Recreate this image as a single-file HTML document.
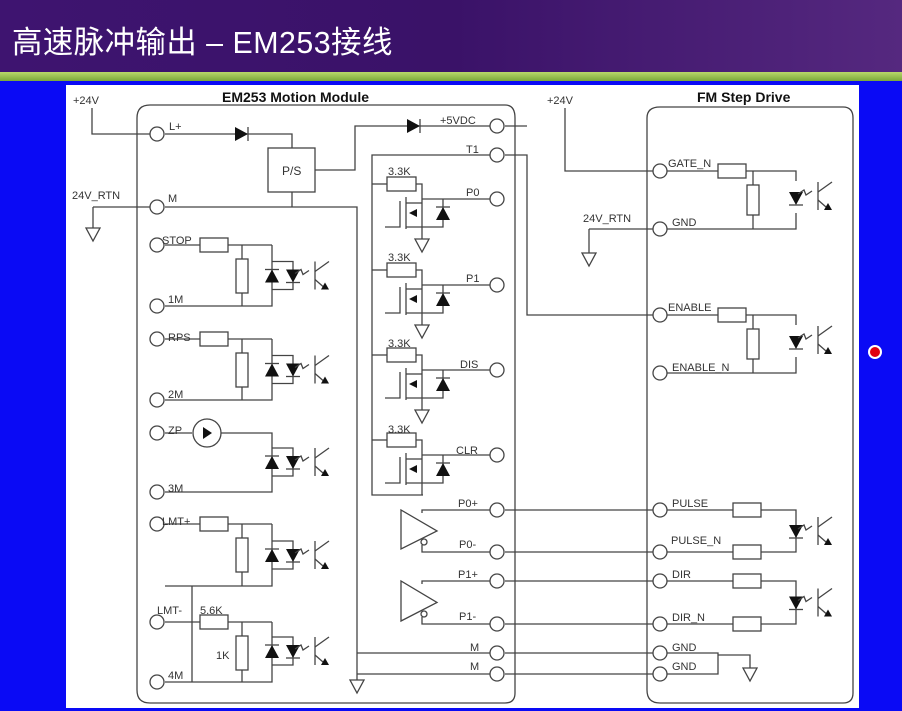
<!DOCTYPE html>
<html><head><meta charset="utf-8"><style>
html,body{margin:0;padding:0}
body{width:902px;height:711px;overflow:hidden;background:#0a0af5;position:relative;font-family:"Liberation Sans",Arial,sans-serif}
#title{position:absolute;left:0;top:0;width:902px;height:72px;background:linear-gradient(90deg,#3e1470,#3a1268 50%,#55287f);}
#title span{position:absolute;left:12px;top:17px;color:#fff;font:31px "Liberation Sans","Noto Sans CJK SC",sans-serif;letter-spacing:0.5px;transform:scaleX(0.98);transform-origin:0 0;white-space:nowrap}
#g1{position:absolute;left:0;top:72px;width:902px;height:9px;background:linear-gradient(#b8d86a,#7aa83a)}
#panel{position:absolute;left:66px;top:85px;width:793px;height:623px;background:#fff}
svg{position:absolute;left:0;top:0}
#dot{position:absolute;left:868px;top:345px;width:14px;height:14px;border-radius:50%;background:#e00010;border:2px solid #fff;box-sizing:border-box}
</style></head><body>
<div id="title"><span>高速脉冲输出 – EM253接线</span></div>
<div id="g1"></div>
<div id="panel"></div>
<div id="dot"></div>
<svg id="s" width="902" height="711" viewBox="0 0 902 711" font-family="Liberation Sans,Arial,sans-serif" font-size="11" fill="#222">
<g id="shapes" stroke="#444" stroke-width="1.3" fill="none"></g>
<g font-weight="bold" font-size="14" fill="#111">
<text x="222" y="102">EM253 Motion Module</text>
<text x="697" y="102">FM Step Drive</text>
</g>
<g fill="#333">
<text x="73" y="104">+24V</text><text x="547" y="104">+24V</text>
<text x="72" y="199">24V_RTN</text><text x="583" y="222">24V_RTN</text>
<text x="169" y="130">L+</text><text x="168" y="202">M</text>
<text x="162" y="244">STOP</text><text x="168" y="303">1M</text>
<text x="168" y="341">RPS</text><text x="168" y="398">2M</text>
<text x="168" y="434">ZP</text><text x="168" y="492">3M</text>
<text x="162" y="525">LMT+</text><text x="157" y="614">LMT-</text>
<text x="200" y="614">5.6K</text><text x="216" y="659">1K</text>
<text x="168" y="679">4M</text>
<text x="282" y="175" font-size="12">P/S</text>
<text x="440" y="124">+5VDC</text><text x="466" y="153">T1</text>
<text x="388" y="175">3.3K</text><text x="466" y="196">P0</text>
<text x="388" y="261">3.3K</text><text x="466" y="282">P1</text>
<text x="388" y="347">3.3K</text><text x="460" y="368">DIS</text>
<text x="388" y="433">3.3K</text><text x="456" y="454">CLR</text>
<text x="458" y="507">P0+</text><text x="459" y="548">P0-</text>
<text x="458" y="578">P1+</text><text x="459" y="620">P1-</text>
<text x="470" y="651">M</text><text x="470" y="670">M</text>
<text x="668" y="167">GATE_N</text><text x="672" y="226">GND</text>
<text x="668" y="311">ENABLE</text><text x="672" y="371">ENABLE_N</text>
<text x="672" y="507">PULSE</text><text x="671" y="544">PULSE_N</text>
<text x="672" y="578">DIR</text><text x="672" y="621">DIR_N</text>
<text x="672" y="651">GND</text><text x="672" y="670">GND</text>
</g>
</svg>
<script>
var S=document.getElementById('shapes'),h='';
function L(p){h+='<polyline points="'+p+'"/>';}
function C(x,y){h+='<circle cx="'+x+'" cy="'+y+'" r="7" fill="#fff"/>';}
function R(x,y,w,hh){h+='<rect x="'+x+'" y="'+y+'" width="'+w+'" height="'+hh+'" fill="#fff"/>';}
function G(x,y){h+='<polygon points="'+(x-7)+','+y+' '+(x+7)+','+y+' '+x+','+(y+13)+'" fill="#fff"/>';}
function Dup(x,y){h+='<polygon points="'+(x-7)+','+(y+7)+' '+(x+7)+','+(y+7)+' '+x+','+(y-6)+'" fill="#111" stroke="none"/><line x1="'+(x-7)+'" y1="'+(y-6)+'" x2="'+(x+7)+'" y2="'+(y-6)+'"/>';}
function Ddn(x,y){h+='<polygon points="'+(x-7)+','+(y-6)+' '+(x+7)+','+(y-6)+' '+x+','+(y+7)+'" fill="#111" stroke="none"/><line x1="'+(x-7)+'" y1="'+(y+7)+'" x2="'+(x+7)+'" y2="'+(y+7)+'"/>';}
function Drt(x,y){h+='<polygon points="'+(x-6)+','+(y-7)+' '+(x-6)+','+(y+7)+' '+(x+7)+','+y+'" fill="#111" stroke="none"/><line x1="'+(x+7)+'" y1="'+(y-7)+'" x2="'+(x+7)+'" y2="'+(y+7)+'"/>';}
function T(x,y){
 L((x-14)+','+(y-2)+' '+(x-8)+','+(y-6)+' '+(x-6)+','+(y-1)+' '+(x)+','+(y-5));
 L((x+6)+','+(y-14)+' '+(x+6)+','+(y+14));L((x+6)+','+(y-4)+' '+(x+20)+','+(y-14));L((x+6)+','+(y+4)+' '+(x+14)+','+(y+11));
 h+='<polygon points="'+(x+12)+','+(y+14)+' '+(x+20)+','+(y+14)+' '+(x+16)+','+(y+7)+'" fill="#111" stroke="none"/>';}
h+='<path d="M150,105 H505 Q515,105 515,118 V693 Q515,703 505,703 H150 Q137,703 137,690 V118 Q137,105 150,105Z"/>';
h+='<path d="M660,107 H843 Q853,107 853,118 V693 Q853,703 843,703 H660 Q647,703 647,690 V118 Q647,107 660,107Z"/>';
L('92,108 92,134 150,134');L('93,207 150,207');L('93,207 93,228');G(93,228);
L('165,134 292,134 292,148');Drt(241,134);R(268,148,47,44);L('292,192 292,207');
L('315,170 355,170 355,126 490,126');Drt(413,126);
L('165,207 357,207 357,680');G(357,680);
L('505,126 527,126');L('505,155 527,155 527,315 653,315');
L('490,155 372,155 372,495 423,495');
[199,285,370,455].forEach(function(y){
 L('372,'+(y-15)+' 387,'+(y-15));R(387,y-22,29,14);L('416,'+(y-15)+' 422,'+(y-15)+' 422,'+(y+40));
 L('422,'+y+' 490,'+y);C(497,y);
 L('385,'+(y+28)+' 400,'+(y+28)+' 400,'+(y+2));L('406,'+(y-2)+' 406,'+(y+30));
 L('406,'+(y+4)+' 422,'+(y+4));L('406,'+(y+28)+' 422,'+(y+28)+' 443,'+(y+28)+' 443,'+y);
 h+='<polygon points="409,'+(y+14)+' 417,'+(y+10)+' 417,'+(y+18)+'" fill="#111" stroke="none"/>';
 Dup(443,y+14);
 if(y<455)G(422,y+40);
});
C(497,126);C(497,155);
[[510,552],[581,624]].forEach(function(a){
 h+='<polygon points="401,'+(a[0]+0)+' 401,'+(a[1]-3)+' 437,'+((a[0]+a[1])/2)+'" fill="#fff"/>';
 h+='<circle cx="424" cy="'+(a[1]-10)+'" r="3" fill="#fff"/>';
 L('422,'+(a[0]+3)+' 422,'+a[0]+' 490,'+a[0]);L('422,'+(a[1]-7)+' 422,'+a[1]+' 490,'+a[1]);
 C(497,a[0]);C(497,a[1]);L('505,'+a[0]+' 653,'+a[0]);L('505,'+a[1]+' 653,'+a[1]);C(660,a[0]);C(660,a[1]);
});
L('357,653 490,653');L('357,674 490,674');C(497,653);C(497,674);
L('505,653 653,653');L('505,674 653,674');C(660,653);C(660,674);
L('667,653 718,653 718,674 667,674');L('718,655 750,655 750,668');G(750,668);
L('565,108 565,171 653,171');C(660,171);
L('589,229 653,229');L('589,229 589,253');G(589,253);C(660,229);
function opto(y1,y2){
 L('667,'+y1+' 718,'+y1);R(718,y1-7,28,14);L('746,'+y1+' 796,'+y1+' 796,'+(y1+10));
 L('753,'+y1+' 753,'+(y1+14));R(747,y1+14,12,30);L('753,'+(y1+44)+' 753,'+y2);
 L('667,'+y2+' 796,'+y2+' 796,'+(y1+42));Ddn(796,(y1+y2)/2-2);T(812,(y1+y2)/2-4);}
opto(171,229);C(660,315);C(660,373);opto(315,373);
function opto2(y1,y2){
 L('667,'+y1+' 733,'+y1);R(733,y1-7,28,14);L('761,'+y1+' 796,'+y1+' 796,'+y2+' 761,'+y2);
 L('667,'+y2+' 733,'+y2);R(733,y2-7,28,14);Ddn(796,(y1+y2)/2);T(812,(y1+y2)/2);}
opto2(510,552);opto2(581,624);
function inp(yt,yb,res,shunt){
 L('165,'+yt+' 200,'+yt);
 if(res){R(200,yt-7,28,14);L('228,'+yt+' 272,'+yt);}
 if(shunt){L('242,'+yt+' 242,'+(yt+14));R(236,yt+14,12,34);L('242,'+(yt+48)+' 242,'+yb);}
 L('272,'+yt+' 272,'+yb+' 165,'+yb);Dup(272,(yt+yb)/2);
 var m=(yt+yb)/2;L('272,'+(m-14)+' 293,'+(m-14)+' 293,'+(m+14)+' 272,'+(m+14));Ddn(293,m);T(309,m);}
C(157,134);C(157,207);
C(157,245);C(157,306);inp(245,306,1,1);
C(157,339);C(157,400);inp(339,400,1,1);
C(157,433);C(157,492);
L('165,433 192,433');h+='<circle cx="207" cy="433" r="14" fill="#fff"/>';h+='<polygon points="203,427 203,439 212,433" fill="#111" stroke="none"/>';
L('221,433 272,433 272,492 165,492');Dup(272,462);L('272,448 293,448 293,476 272,476');Ddn(293,462);T(309,462);
C(157,524);inp(524,586,1,1);L('192,586 192,682');
C(157,622);C(157,682);L('165,622 200,622');R(200,615,28,14);L('228,622 272,622');
L('242,622 242,636');R(236,636,12,34);L('242,670 242,682');
L('272,622 272,682 165,682');Dup(272,651);L('272,637 293,637 293,665 272,665');Ddn(293,651);T(309,651);
S.innerHTML=h;
</script>
</body></html>
